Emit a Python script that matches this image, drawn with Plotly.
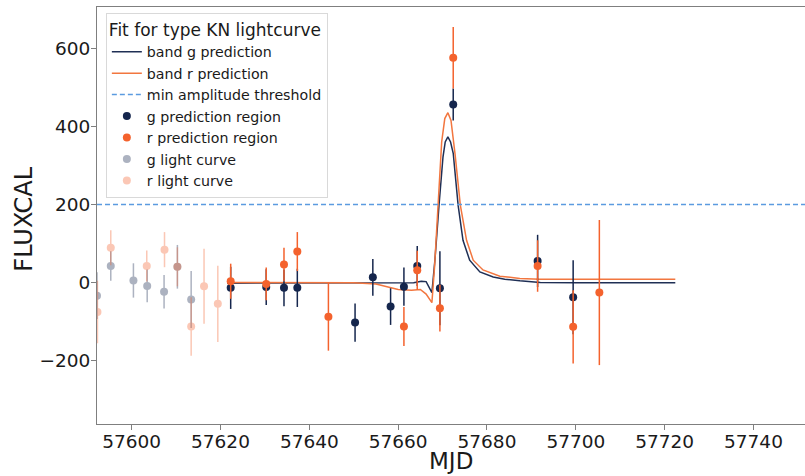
import plotly.graph_objects as go

# ---------------- data ----------------
# light curve (outside prediction region)
g_lc_mjd = [57592.2, 57595.3, 57600.4, 57603.5, 57607.3, 57610.3, 57613.4]
g_lc_flux = [-34, 42, 5, -9, -24, 40, -44]
g_lc_err = [60, 38, 44, 42, 43, 56, 73]

r_lc_mjd = [57592.3, 57595.3, 57603.4, 57607.4, 57610.3, 57613.4, 57616.3, 57619.4]
r_lc_flux = [-76, 89, 42, 84, 40, -113, -10, -55]
r_lc_err = [80, 45, 40, 45, 50, 75, 96, 98]

# prediction region
g_pr_mjd = [57622.3, 57630.3, 57634.3, 57637.3, 57650.3, 57654.3, 57658.3, 57661.3,
            57664.3, 57669.4, 57672.4, 57691.4, 57699.4]
g_pr_flux = [-14, -12, -14, -14, -103, 13, -62, -11, 42, -15, 456, 55, -38]
g_pr_err = [54, 46, 47, 49, 49, 47, 47, 49, 51, 95, 41, 67, 95]

r_pr_mjd = [57622.3, 57630.3, 57634.3, 57637.3, 57644.3, 57661.3, 57664.3,
            57669.4, 57672.4, 57691.4, 57699.4, 57705.3]
r_pr_flux = [3, -4, 46, 79, -88, -113, 31, -66, 576, 42, -114, -26]
r_pr_err = [45, 42, 43, 50, 87, 50, 50, 60, 79, 66, 94, 186]

# fitted model curves
g_model_mjd = [57621.5, 57630, 57640, 57650, 57660, 57663.5, 57665.2, 57666.3, 57667.6,
               57668.3, 57669.2, 57670.1, 57670.6, 57671.2, 57671.8, 57672.4, 57673.5,
               57674.6, 57676.1, 57678.4, 57681.4, 57684, 57687.4, 57692, 57700, 57710, 57722.4]
g_model_flux = [-2, -2, -2, -2, -2, -1, 3, 2, -26,
                60, 198, 322, 360, 373, 360, 331, 198,
                108, 57, 27, 14, 8, 4, 0, -1, -1, -1]

r_model_mjd = [57621.5, 57630, 57640, 57650, 57655, 57660, 57663, 57665, 57666.3, 57667.6,
               57668.2, 57669.0, 57669.8, 57670.5, 57671.2, 57671.9, 57672.8, 57674.0,
               57675.4, 57676.9, 57679.1, 57682.9, 57687.4, 57692, 57700, 57710, 57722.4]
r_model_flux = [0, 0, 0, -1, -4, -18, -20, -18, -30, -52,
                40, 198, 360, 420, 435, 415, 330, 198,
                108, 57, 32, 16, 10, 8, 8, 8, 8]

threshold = 200
x_range = [57592.2, 57751.6]
y_range = [-363, 706]
x_ticks = [57600, 57620, 57640, 57660, 57680, 57700, 57720, 57740]
y_ticks = [-200, 0, 200, 400, 600]

NAVY = "#15264d"
ORANGE = "#f4622d"
NAVY_LINE = "#1f2f55"
ORANGE_LINE = "#f2763f"
BLUE = "#5b9be0"
FONT = "DejaVu Sans"
TXT = "#1a1a1a"

fig = go.Figure()

fig.add_trace(go.Scatter(x=g_model_mjd, y=g_model_flux, mode="lines",
                         line=dict(color=NAVY_LINE, width=1.5),
                         name="band g prediction"))
fig.add_trace(go.Scatter(x=r_model_mjd, y=r_model_flux, mode="lines",
                         line=dict(color=ORANGE_LINE, width=1.5),
                         name="band r prediction"))
fig.add_trace(go.Scatter(x=x_range, y=[threshold, threshold], mode="lines",
                         line=dict(color=BLUE, width=1.5, dash="5px,3px"),
                         name="min amplitude threshold"))

def pts(x, y, e, color, name, opacity=1.0):
    return go.Scatter(x=x, y=y, mode="markers", name=name, opacity=opacity,
                      marker=dict(color=color, size=8, line=dict(width=0)),
                      error_y=dict(type="data", array=e, visible=True,
                                   color=color, thickness=1.5, width=0))

fig.add_trace(pts(g_pr_mjd, g_pr_flux, g_pr_err, NAVY, "g prediction region"))
fig.add_trace(pts(r_pr_mjd, r_pr_flux, r_pr_err, ORANGE, "r prediction region"))
fig.add_trace(pts(g_lc_mjd, g_lc_flux, g_lc_err, NAVY, "g light curve", 0.35))
fig.add_trace(pts(r_lc_mjd, r_lc_flux, r_lc_err, ORANGE, "r light curve", 0.35))

axis_common = dict(showgrid=False, zeroline=False, showline=True, linecolor="#7f7f7f",
                   linewidth=1, ticks="outside", ticklen=5, tickcolor="#7f7f7f",
                   automargin=False, tickformat="d",
                   tickfont=dict(family=FONT, size=18.5, color=TXT))

fig.update_layout(
    width=805, height=476,
    margin=dict(l=97, r=0, t=7, b=52, autoexpand=False),
    paper_bgcolor="white", plot_bgcolor="white",
    font=dict(family=FONT, color=TXT),
    xaxis=dict(range=x_range, tickvals=x_ticks, mirror=True, ticklabelstandoff=-4,
               **axis_common),
    yaxis=dict(range=y_range, tickvals=y_ticks, ticklabelstandoff=-3, **axis_common),
    legend=dict(x=0.0125, y=0.986, xanchor="left", yanchor="top",
                bgcolor="rgba(255,255,255,0.85)", bordercolor="#d9d9d9", borderwidth=1,
                font=dict(family=FONT, size=14.2, color=TXT),
                title=dict(text="Fit for type KN lightcurve",
                           font=dict(family=FONT, size=17, color=TXT)),
                tracegroupgap=0, itemwidth=30),
    showlegend=True,
    annotations=[
        dict(text="MJD", xref="paper", yref="paper", x=0.5, y=-0.0, yshift=-37,
             xanchor="center", yanchor="middle", showarrow=False,
             font=dict(family=FONT, size=23, color=TXT)),
        dict(text="FLUXCAL", xref="paper", yref="paper", x=0, xshift=-73, y=0.49,
             xanchor="center", yanchor="middle", showarrow=False, textangle=-90,
             font=dict(family=FONT, size=24, color=TXT)),
    ],
)

fig.write_html("out.html", config={"displayModeBar": False},
               post_script="document.body.style.margin='0';"
                           "document.body.style.overflow='hidden';")
